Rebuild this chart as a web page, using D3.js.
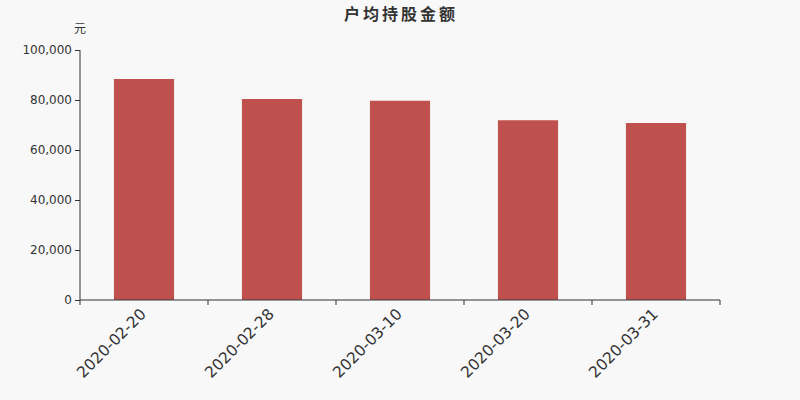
<!DOCTYPE html>
<html>
<head>
<meta charset="utf-8">
<script src="https://cdn.jsdelivr.net/npm/d3@7/dist/d3.min.js"></script>
<style>
  body { margin: 0; background: #f8f8f8; }
  svg { display: block; }
  svg text { font-family: "DejaVu Sans", "Noto Sans CJK SC", sans-serif; }
</style>
</head>
<body>
<div id="chart"></div>
<script>
// data
var dates = ['2020-02-20', '2020-02-28', '2020-03-10', '2020-03-20', '2020-03-31'];
var amounts = [88400, 80400, 79700, 71900, 70800];
var yTicks = [0, 20000, 40000, 60000, 80000, 100000];

var width = 800, height = 400;
var margin = { top: 50, right: 80, bottom: 100, left: 80 };

var svg = d3.select('#chart')
    .append('svg')
    .attr('width', width)
    .attr('height', height);

svg.append('rect')
    .attr('width', width)
    .attr('height', height)
    .attr('fill', '#f8f8f8');

// Scales
var x = d3.scaleBand()
    .domain(dates)
    .range([margin.left, width - margin.right])
    .paddingInner(0.53)
    .paddingOuter(0.265);

var y = d3.scaleLinear()
    .domain([0, 100000])
    .range([height - margin.bottom, margin.top]);

// Title
svg.append('text')
    .attr('x', width / 2 + 1)
    .attr('y', 20)
    .attr('text-anchor', 'middle')
    .style('font-size', '16px')
    .style('font-weight', 'bold')
    .style('letter-spacing', '3px')
    .attr('fill', '#333')
    .text('户均持股金额');

// unit label
svg.append('text')
    .attr('x', margin.left)
    .attr('y', 33)
    .attr('text-anchor', 'middle')
    .style('font-size', '12px')
    .attr('fill', '#333')
    .text('元');

// Bars
svg.append('g')
    .selectAll('rect')
    .data(amounts)
    .join('rect')
    .attr('x', function(d, i) { return x(dates[i]); })
    .attr('y', function(d) { return y(d); })
    .attr('width', x.bandwidth())
    .attr('height', function(d) { return y(0) - y(d); })
    .attr('fill', '#c0504d');

// Y axis
var yAxis = svg.append('g')
    .attr('transform', 'translate(' + margin.left + ',0)')
    .call(d3.axisLeft(y).tickValues(yTicks).tickSize(5).tickFormat(d3.format(',')));
yAxis.selectAll('text').style('font-size', '12px').attr('fill', '#333');
yAxis.selectAll('line, path').attr('stroke', '#333');
yAxis.select('.domain').attr('d', 'M0,' + y(100000) + 'V' + y(0));

// X axis: ticks on band boundaries
var xAxisG = svg.append('g')
    .attr('transform', 'translate(0,' + y(0) + ')');
xAxisG.append('line')
    .attr('x1', margin.left).attr('x2', width - margin.right)
    .attr('stroke', '#333');
var bounds = d3.range(dates.length + 1).map(function(i) { return margin.left + i * (width - margin.left - margin.right) / dates.length; });
xAxisG.selectAll('.tk')
    .data(bounds)
    .join('line')
    .attr('class', 'tk')
    .attr('x1', function(d) { return d; })
    .attr('x2', function(d) { return d; })
    .attr('y2', 5)
    .attr('stroke', '#333');
xAxisG.selectAll('.lbl')
    .data(dates)
    .join('text')
    .attr('class', 'lbl')
    .attr('text-anchor', 'end')
    .attr('transform', function(d) {
        var cx = x(d) + x.bandwidth() / 2;
        return 'translate(' + (cx + 3) + ',15) rotate(-45)';
    })
    .style('font-size', '15.5px')
    .attr('fill', '#333')
    .text(function(d) { return d; });
</script>
</body>
</html>
